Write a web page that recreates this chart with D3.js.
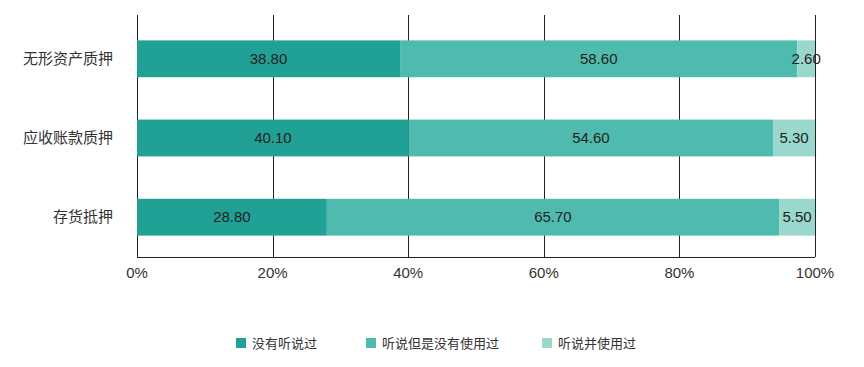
<!DOCTYPE html>
<html>
<head>
<meta charset="utf-8">
<script src="https://cdn.jsdelivr.net/npm/d3@7"></script>
<style>
  body { margin: 0; background: #fff; }
  svg text { font-family: "Liberation Sans", Arial, "Noto Sans CJK SC", sans-serif; }
  .cjk { font-family: "Noto Sans CJK SC", "Microsoft YaHei", sans-serif; }
</style>
</head>
<body>
<div id="chart"></div>
<script>
// data (bar lengths as drawn, printed labels as shown)
const categories = ['无形资产质押', '应收账款质押', '存货抵押'];
const seriesNames = ['没有听说过', '听说但是没有使用过', '听说并使用过'];
const notHeard = [38.8, 40.1, 28.0];
const heardNotUsed = [58.6, 53.7, 66.7];
const heardUsed = [2.6, 6.2, 5.3];
const notHeardLabels = ['38.80', '40.10', '28.80'];
const heardNotUsedLabels = ['58.60', '54.60', '65.70'];
const heardUsedLabels = ['2.60', '5.30', '5.50'];
const xTicks = [0, 20, 40, 60, 80, 100];

const colors = ['#21a095', '#4fbbae', '#9ad7cd'];

var margin = { top: 15, right: 49, bottom: 110, left: 137 };
var width = 864 - margin.left - margin.right;
var height = 367 - margin.top - margin.bottom;

let rows = categories.map(function (c, i) {
    return {
        cat: c,
        vals: [notHeard[i], heardNotUsed[i], heardUsed[i]],
        labels: [notHeardLabels[i], heardNotUsedLabels[i], heardUsedLabels[i]]
    };
});

let x = d3.scaleLinear().domain([0, 100]).range([0, width]);
let y = d3.scaleBand().domain(categories).range([4, height]).paddingInner(0.535).paddingOuter(0.27);

var svg = d3.select("#chart")
    .append("svg")
    .attr("width", 864)
    .attr("height", 367)
    .append("g")
    .attr("transform", "translate(" + margin.left + "," + margin.top + ")");

// vertical grid lines
svg.selectAll(".grid")
    .data(xTicks).enter()
    .append("line")
    .attr("x1", d => Math.round(x(d)) + 0.5)
    .attr("x2", d => Math.round(x(d)) + 0.5)
    .attr("y1", 0)
    .attr("y2", height)
    .style("stroke", "#222")
    .style("stroke-width", 1);

// bottom axis line
svg.append("line")
    .attr("x1", 0).attr("x2", width)
    .attr("y1", height + 0.5).attr("y2", height + 0.5)
    .style("stroke", "#222");

// tick labels
svg.selectAll(".tick-label")
    .data(xTicks).enter()
    .append("text")
    .attr("x", d => x(d))
    .attr("y", height + 21)
    .attr("text-anchor", "middle")
    .style("font-size", "15px")
    .style("fill", "#333")
    .text(d => d + "%");

// category labels
svg.selectAll(".cat")
    .data(categories).enter()
    .append("text")
    .attr("class", "cjk")
    .attr("x", -24)
    .attr("y", d => y(d) + y.bandwidth() / 2)
    .attr("dy", "0.35em")
    .attr("text-anchor", "end")
    .style("font-size", "15px")
    .style("fill", "#333")
    .text(d => d);

// stacked bars
rows.forEach(function (r) {
    let start = 0;
    r.vals.forEach(function (v, j) {
        svg.append("rect")
            .attr("x", x(start))
            .attr("y", y(r.cat))
            .attr("width", x(start + v) - x(start))
            .attr("height", y.bandwidth())
            .style("fill", colors[j]);
        svg.append("text")
            .attr("x", x(start + v / 2))
            .attr("y", y(r.cat) + y.bandwidth() / 2)
            .attr("dy", "0.35em")
            .attr("text-anchor", "middle")
            .style("font-size", "15px")
            .style("fill", "#222")
            .text(r.labels[j]);
        start += v;
    });
});

// legend
const legendX = [236, 366, 542];
let legend = d3.select("svg").selectAll(".legend")
    .data(seriesNames).enter()
    .append("g")
    .attr("transform", (d, i) => "translate(" + legendX[i] + ",338)");
legend.append("rect")
    .attr("width", 10).attr("height", 10)
    .style("fill", (d, i) => colors[i]);
legend.append("text")
    .attr("class", "cjk")
    .attr("x", 16)
    .attr("y", 5)
    .attr("dy", "0.35em")
    .style("font-size", "13px")
    .style("fill", "#333")
    .text(d => d);
</script>
</body>
</html>
